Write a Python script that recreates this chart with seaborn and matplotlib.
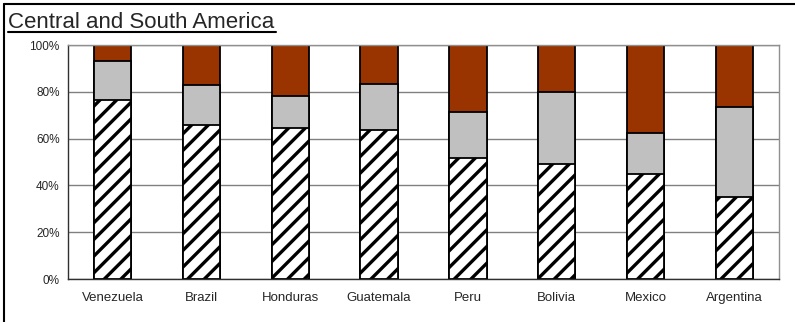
import numpy as np
import pandas as pd
import matplotlib
matplotlib.use('Agg')
import matplotlib.pyplot as plt
from matplotlib.lines import Line2D
from matplotlib.ticker import FuncFormatter
import seaborn as sns

countries = ['Venezuela', 'Brazil', 'Honduras', 'Guatemala', 'Peru', 'Bolivia', 'Mexico', 'Argentina']
# segment shares (%), bottom to top
hatched_share = [76.5, 65.7, 64.4, 63.7, 51.9, 49.1, 45.0, 35.0]
grey_share = [16.8, 17.1, 13.6, 19.8, 19.6, 30.8, 17.3, 38.7]
brown_share = [6.7, 17.2, 22.0, 16.5, 28.5, 20.1, 37.7, 26.3]
y_ticks = [0, 20, 40, 60, 80, 100]

df = pd.DataFrame({'country': countries, 'hatched': hatched_share,
                   'grey': grey_share, 'brown': brown_share})
df['grey_top'] = df['hatched'] + df['grey']
df['brown_top'] = df['grey_top'] + df['brown']

sns.set_style('white')
plt.rcParams['font.family'] = ['Liberation Sans', 'DejaVu Sans']
plt.rcParams['hatch.linewidth'] = 2.4
plt.rcParams['hatch.color'] = 'black'

fig = plt.figure(figsize=(7.95, 3.22), dpi=100)
ax = fig.add_axes([68 / 795, 1 - 279 / 322, 711 / 795, 234 / 322])

common = dict(x='country', width=0.42, edgecolor='black', linewidth=1.3,
              saturation=1, ax=ax, order=countries)
sns.barplot(data=df, y='brown_top', color='#993300', **common)
sns.barplot(data=df, y='grey_top', color='#C0C0C0', **common)
sns.barplot(data=df, y='hatched', color='white', hatch='//', **common)

ax.set_xlim(-0.5, len(countries) - 0.5)
ax.set_ylim(0, 100)
ax.set_yticks(y_ticks)
ax.yaxis.set_major_formatter(FuncFormatter(lambda v, p: f'{v:.0f}%'))
ax.set_xlabel('')
ax.set_ylabel('')
ax.set_axisbelow(True)
ax.yaxis.grid(True, color='#808080', linewidth=1)
ax.xaxis.grid(False)

ax.set_xticks(np.arange(-0.5, len(countries)), minor=True)
ax.tick_params(axis='x', which='major', length=0, labelsize=9.5, pad=15.5)
ax.tick_params(axis='x', which='minor', length=4, width=1, color='#404040', direction='out')
ax.tick_params(axis='y', length=4, width=1, color='#404040', direction='out', labelsize=8.5, pad=2)
for lbl in ax.get_xticklabels():
    lbl.set_verticalalignment('baseline')

for side in ['top', 'right']:
    ax.spines[side].set_color('#909090')
    ax.spines[side].set_linewidth(1)
for side in ['left', 'bottom']:
    ax.spines[side].set_color('#303030')
    ax.spines[side].set_linewidth(1)

# title with underline
fig.text(8 / 795, 1 - 28 / 322, 'Central and South America', fontsize=16,
         ha='left', va='baseline')
fig.add_artist(Line2D([8 / 795, 276 / 795], [1 - 32 / 322, 1 - 32 / 322],
                      color='black', linewidth=1.5))

# outer frame (top and left)
fig.add_artist(Line2D([4 / 795, 1.0], [1 - 4 / 322, 1 - 4 / 322], color='black', linewidth=1.5))
fig.add_artist(Line2D([4 / 795, 4 / 795], [0.0, 1 - 4 / 322], color='black', linewidth=1.5))

fig.savefig('out.png', dpi=100)
